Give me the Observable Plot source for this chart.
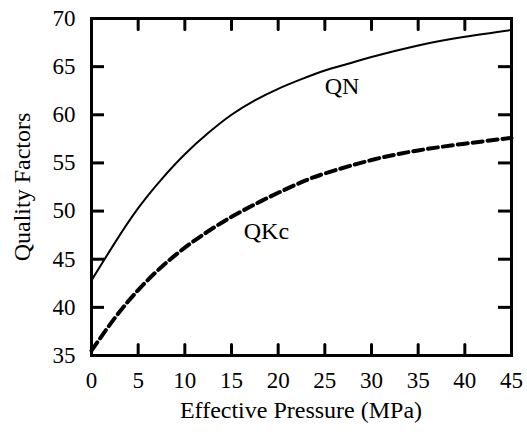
<!DOCTYPE html>
<html><head><meta charset="utf-8">
<script src="https://cdn.jsdelivr.net/npm/d3@7"></script>
<script src="https://cdn.jsdelivr.net/npm/@observablehq/plot@0.6"></script>
<style>
body{margin:0;background:#fff}
#wrap{position:relative;width:527px;height:432px}
#wrap svg{display:block}
svg text{font-family:'Liberation Serif',serif;}
.lbl{position:absolute;font-family:'Liberation Serif',serif;font-size:24px;line-height:1;color:#000;white-space:nowrap;transform:translate(-50%,-50%)}
.rot{transform:translate(-50%,-50%) rotate(-90deg)}
</style>
</head><body><div id="wrap"></div>
<script>
// Data
const pressure = [0, 2.5, 5, 7.5, 10, 12.5, 15, 17.5, 20, 22.5, 25, 27.5, 30, 35, 40, 45];
const qn  = [42.8, 46.7, 50.3, 53.3, 55.9, 58.1, 60.0, 61.5, 62.7, 63.7, 64.6, 65.3, 66.0, 67.2, 68.1, 68.8];
const pressureK = [0, 2.5, 5, 7.5, 10, 12.5, 15, 17.5, 20, 22.5, 25, 30, 35, 40, 45];
const qkc = [35.5, 38.9, 41.8, 44.2, 46.2, 47.9, 49.4, 50.7, 51.9, 53.0, 53.9, 55.3, 56.3, 57.0, 57.6];
const curveNames = ["QN", "QKc"];
const labelX = [26.9, 18.8];
const labelY = [62.9, 47.9];
const xTicks = [0, 5, 10, 15, 20, 25, 30, 35, 40, 45];
const yTicks = [35, 40, 45, 50, 55, 60, 65, 70];
const xLabel = "Effective Pressure (MPa)";
const yLabel = "Quality Factors";

const W = 527, H = 432, mt = 18, mb = 77, ml = 91, mr = 16;
const innerH = H - mt - mb, innerW = W - ml - mr;
const xDomain = [0, 45], yDomain = [35, 70];
const xUnit = (xDomain[1] - xDomain[0]) / innerW;   // data units per pixel
const yUnit = (yDomain[1] - yDomain[0]) / innerH;
const xTickLen = 11, yTickLen = 13;
const xInner = xTicks.slice(1, -1);
const yInner = yTicks.slice(1, -1);
const qnData = pressure.map((p, i) => ({p, v: qn[i]}));
const qkcData = pressureK.map((p, i) => ({p, v: qkc[i]}));

const bottomTicks = xInner.flatMap(t => [{x: t, y: yDomain[0], k: "b" + t}, {x: t, y: yDomain[0] + xTickLen * yUnit, k: "b" + t}]);
const topTicks = xInner.flatMap(t => [{x: t, y: yDomain[1], k: "t" + t}, {x: t, y: yDomain[1] - xTickLen * yUnit, k: "t" + t}]);

const chart = Plot.plot({
  width: W, height: H,
  marginTop: mt, marginBottom: mb, marginLeft: ml, marginRight: mr,
  style: "font-family: 'Liberation Serif', serif; font-size: 23px; color: #000; background: #fff;",
  x: {domain: xDomain},
  y: {domain: yDomain},
  marks: [
    Plot.axisX({ticks: xTicks, tickSize: 0, tickPadding: 16, label: null, fontSize: 23}),
    Plot.axisY({ticks: yTicks, tickSize: 0, tickPadding: 16, label: null, fontSize: 23}),
    Plot.line(bottomTicks, {x: "x", y: "y", z: "k", stroke: "#000", strokeWidth: 3}),
    Plot.line(topTicks, {x: "x", y: "y", z: "k", stroke: "#000", strokeWidth: 3}),
    Plot.ruleY(yInner, {y: d => d, x1: xDomain[0], x2: xDomain[0] + yTickLen * xUnit, stroke: "#000", strokeWidth: 3}),
    Plot.ruleY(yInner, {y: d => d, x1: xDomain[1], x2: xDomain[1] - yTickLen * xUnit, stroke: "#000", strokeWidth: 3}),
    Plot.line(qnData, {x: "p", y: "v", curve: "natural", stroke: "#000", strokeWidth: 2}),
    Plot.line(qkcData, {x: "p", y: "v", curve: "natural", stroke: "#000", strokeWidth: 4, strokeDasharray: "10,5"}),
    Plot.frame({stroke: "#000", strokeWidth: 3})
  ]
});
const wrap = document.getElementById("wrap");
wrap.appendChild(chart);

// Labels positioned through the chart's own scales
const sx = chart.scale("x"), sy = chart.scale("y");
function addLabel(text, x, y, cls) {
  const d = document.createElement("div");
  d.className = "lbl" + (cls ? " " + cls : "");
  d.textContent = text;
  d.style.left = x + "px";
  d.style.top = y + "px";
  wrap.appendChild(d);
}
curveNames.forEach((n, i) => addLabel(n, sx.apply(labelX[i]), sy.apply(labelY[i])));
const x0 = sx.apply(xDomain[0]), x1 = sx.apply(xDomain[1]);
const yB = sy.apply(yDomain[0]), yT = sy.apply(yDomain[1]);
addLabel(xLabel, (x0 + x1) / 2, yB + 55);
addLabel(yLabel, x0 - 69, (yB + yT) / 2, "rot");
</script>
</body></html>
